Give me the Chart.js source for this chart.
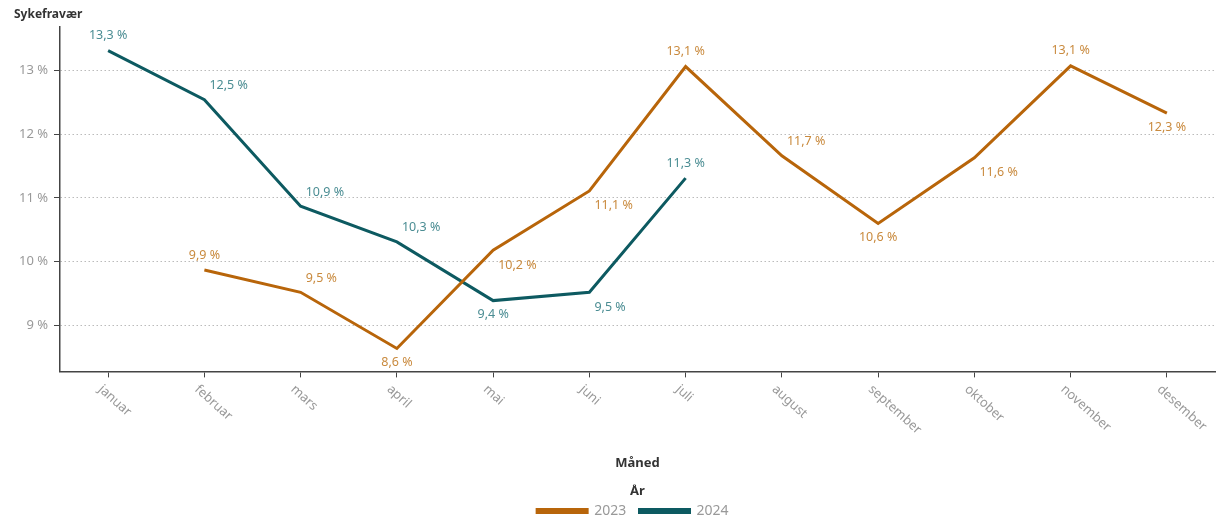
<!DOCTYPE html>
<html>
<head>
<meta charset="utf-8">
<script src="https://cdn.jsdelivr.net/npm/chart.js@4.4.1/dist/chart.umd.min.js"></script>
<style>
  html, body { margin: 0; padding: 0; background: #fff; }
  #wrap { width: 1217px; height: 517px; position: relative; }
</style>
</head>
<body>
<div id="wrap"><canvas id="chart"></canvas></div>
<script>
const months = ['januar', 'februar', 'mars', 'april', 'mai', 'juni', 'juli', 'august', 'september', 'oktober', 'november', 'desember'];
const values2023 = [null, 9.87, 9.52, 8.64, 10.18, 11.11, 13.06, 11.66, 10.60, 11.63, 13.07, 12.33];
const values2024 = [13.31, 12.54, 10.87, 10.31, 9.39, 9.52, 11.31, null, null, null, null, null];
const yTicks = [9, 10, 11, 12, 13];

const FONT = '"Noto Sans", sans-serif';
const fmt = v => v.toFixed(1).replace('.', ',') + ' %';

// data labels: placed by the shape of the line around each point
const pointLabels = {
    id: 'pointLabels',
    afterDatasetsDraw(chart) {
        const ctx = chart.ctx;
        chart.data.datasets.forEach((ds, di) => {
            const meta = chart.getDatasetMeta(di);
            ds.data.forEach((v, i) => {
                if (v == null) return;
                const pt = meta.data[i];
                const prev = ds.data[i - 1], next = ds.data[i + 1];
                const upFromPrev = prev == null ? null : v > prev;
                const upToNext = next == null ? null : next > v;
                let place;
                if (prev == null) place = upToNext ? 'below' : 'above';
                else if (next == null) place = upFromPrev ? 'above' : 'below';
                else if (upFromPrev && !upToNext) place = 'above';
                else if (!upFromPrev && upToNext) place = 'below';
                else if (upFromPrev) place = 'rightBelow';
                else place = 'rightAbove';
                ctx.save();
                ctx.font = '12.5px ' + FONT;
                ctx.fillStyle = ds.labelColor;
                ctx.textBaseline = 'middle';
                let x = pt.x, y = pt.y;
                if (place === 'above') { ctx.textAlign = 'center'; y -= 15; }
                if (place === 'below') { ctx.textAlign = 'center'; y += 14; }
                if (place === 'rightAbove') { ctx.textAlign = 'left'; x += 5; y -= 14; }
                if (place === 'rightBelow') { ctx.textAlign = 'left'; x += 5; y += 15; }
                ctx.fillText(fmt(v), x, y);
                ctx.restore();
            });
        });
    }
};

// y title at top left + rotated month labels, legend centred on the plot
const extras = {
    id: 'extras',
    afterLayout(chart) {
        const lg = chart.legend, ca = chart.chartArea;
        if (!lg) return;
        const shift = (ca.left + ca.right) / 2 - (lg.left + lg.right) / 2;
        lg.left += shift;
        lg.right += shift;
    },
    afterDraw(chart) {
        const ctx = chart.ctx;
        ctx.save();
        ctx.font = 'bold 12px ' + FONT;
        ctx.fillStyle = '#333';
        ctx.textAlign = 'left';
        ctx.textBaseline = 'middle';
        ctx.fillText('Sykefravær', 14, 15);

        const xs = chart.scales.x;
        ctx.font = '13px ' + FONT;
        ctx.fillStyle = '#999';
        months.forEach((m, i) => {
            const px = xs.getPixelForTick(i);
            ctx.save();
            ctx.translate(px - 8, xs.top + 16);
            ctx.rotate(42 * Math.PI / 180);
            ctx.textAlign = 'left';
            ctx.textBaseline = 'middle';
            ctx.fillText(m, 0, 0);
            ctx.restore();
        });
        ctx.restore();
    }
};

new Chart(document.getElementById('chart'), {
    type: 'line',
    data: {
        labels: months,
        datasets: [
            {
                label: '2023',
                data: values2023,
                borderColor: '#b8650a',
                backgroundColor: '#b8650a',
                labelColor: '#c98a3e',
                borderWidth: 3,
                pointRadius: 0,
                pointHoverRadius: 0,
                tension: 0
            },
            {
                label: '2024',
                data: values2024,
                borderColor: '#0d5a61',
                backgroundColor: '#0d5a61',
                labelColor: '#4b8d93',
                borderWidth: 3,
                pointRadius: 0,
                pointHoverRadius: 0,
                tension: 0
            }
        ]
    },
    options: {
        responsive: true,
        maintainAspectRatio: false,
        animation: false,
        layout: { padding: { left: 0, right: 2, top: 27, bottom: -11 } },
        scales: {
            x: {
                offset: true,
                grid: { drawOnChartArea: false, drawTicks: true, tickLength: 6, tickColor: '#444' },
                border: { color: '#444', width: 1.5 },
                ticks: { color: 'transparent', maxRotation: 0, minRotation: 0, autoSkip: false },
                title: {
                    display: true,
                    text: 'Måned',
                    color: '#333',
                    font: { family: FONT, size: 13, weight: 'bold' },
                    padding: { top: 0, bottom: 13 }
                },
                afterFit(scale) { scale.height = 113; }
            },
            y: {
                min: 8.28,
                max: 13.68,
                afterBuildTicks(scale) {
                    scale.ticks = yTicks.map(v => ({ value: v }));
                },
                grid: {
                    color: '#bbbbbb',
                    lineWidth: 1,
                    tickLength: 6,
                    tickColor: '#444'
                },
                border: { color: '#444', width: 1.5, dash: [1.5, 2.5] },
                ticks: {
                    color: '#999',
                    padding: 6,
                    font: { family: FONT, size: 13 },
                    callback: v => v + ' %'
                },
                afterFit(scale) { scale.width = 60; }
            }
        },
        plugins: {
            tooltip: { enabled: false },
            legend: {
                position: 'bottom',
                title: {
                    display: true,
                    text: 'År',
                    color: '#333',
                    font: { family: FONT, size: 13, weight: 'bold' },
                    padding: { top: 0, bottom: 0 }
                },
                labels: {
                    color: '#999',
                    font: { family: FONT, size: 14 },
                    boxWidth: 50,
                    boxHeight: 3,
                    padding: 4,
                    generateLabels(chart) {
                        const items = Chart.defaults.plugins.legend.labels.generateLabels(chart);
                        items.forEach(it => { it.text = it.text + '\u2002\u2009'; });
                        return items;
                    }
                }
            }
        }
    },
    plugins: [pointLabels, extras]
});
</script>
</body>
</html>
